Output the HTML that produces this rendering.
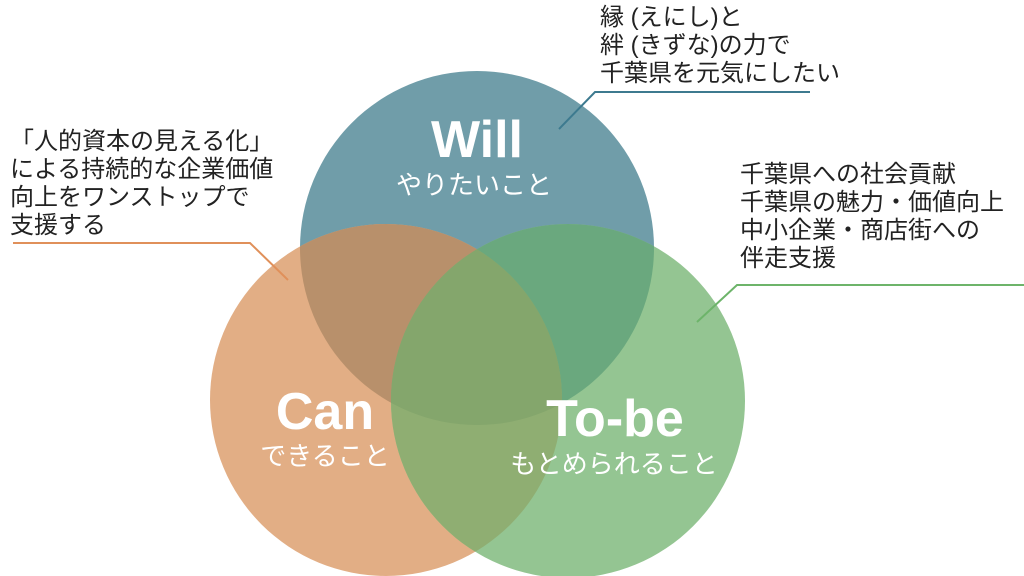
<!DOCTYPE html>
<html><head><meta charset="utf-8"><style>
html,body{margin:0;padding:0;background:#fff;}
body{width:1024px;height:576px;overflow:hidden;position:relative;font-family:"Liberation Sans","Noto Sans CJK JP",sans-serif;}
.t{position:absolute;font-size:24px;line-height:28px;color:#222;white-space:nowrap;}
</style></head><body>
<svg width="1024" height="576" style="position:absolute;left:0;top:0">
<defs>
<clipPath id="cw"><circle cx="477" cy="248" r="177"/></clipPath>
<clipPath id="cc"><circle cx="386" cy="400" r="176"/></clipPath>
<clipPath id="ct"><circle cx="568" cy="401" r="177"/></clipPath>
</defs>
<circle cx="477" cy="248" r="177" fill="#709da9"/>
<circle cx="386" cy="400" r="176" fill="#e2ae85"/>
<circle cx="568" cy="401" r="177" fill="#94c592"/>
<circle cx="386" cy="400" r="176" fill="#b8906b" clip-path="url(#cw)"/>
<circle cx="568" cy="401" r="177" fill="#6aa87e" clip-path="url(#cw)"/>
<circle cx="568" cy="401" r="177" fill="#8fae72" clip-path="url(#cc)"/>
<g clip-path="url(#cw)"><circle cx="568" cy="401" r="177" fill="#84a66c" clip-path="url(#cc)"/></g>
<polyline points="13,243 250,243 288,280" fill="none" stroke="#e0905a" stroke-width="2"/>
<polyline points="810,92 595,92 559,129" fill="none" stroke="#3d7a8f" stroke-width="2"/>
<polyline points="1024,285 737,285 697,322" fill="none" stroke="#6db46a" stroke-width="2"/>
<g fill="#fff" text-anchor="middle" font-family="Liberation Sans,Noto Sans CJK JP,sans-serif">
<text x="477" y="157" font-size="52" font-weight="bold">Will</text>
<text x="474" y="194" font-size="26">やりたいこと</text>
<text x="325" y="429" font-size="52" font-weight="bold">Can</text>
<text x="325" y="465" font-size="26">できること</text>
<text x="615" y="436" font-size="52" font-weight="bold">To-be</text>
<text x="614" y="473" font-size="26">もとめられること</text>
</g>
</svg>
<div class="t" style="left:600px;top:4px">縁 (えにし)と<br>絆 (きずな)の力で<br>千葉県を元気にしたい</div>
<div class="t" style="left:10px;top:128px">「人的資本の見える化」<br>による持続的な企業価値<br>向上をワンストップで<br>支援する</div>
<div class="t" style="left:740px;top:161px">千葉県への社会貢献<br>千葉県の魅力・価値向上<br>中小企業・商店街への<br>伴走支援</div>
</body></html>
